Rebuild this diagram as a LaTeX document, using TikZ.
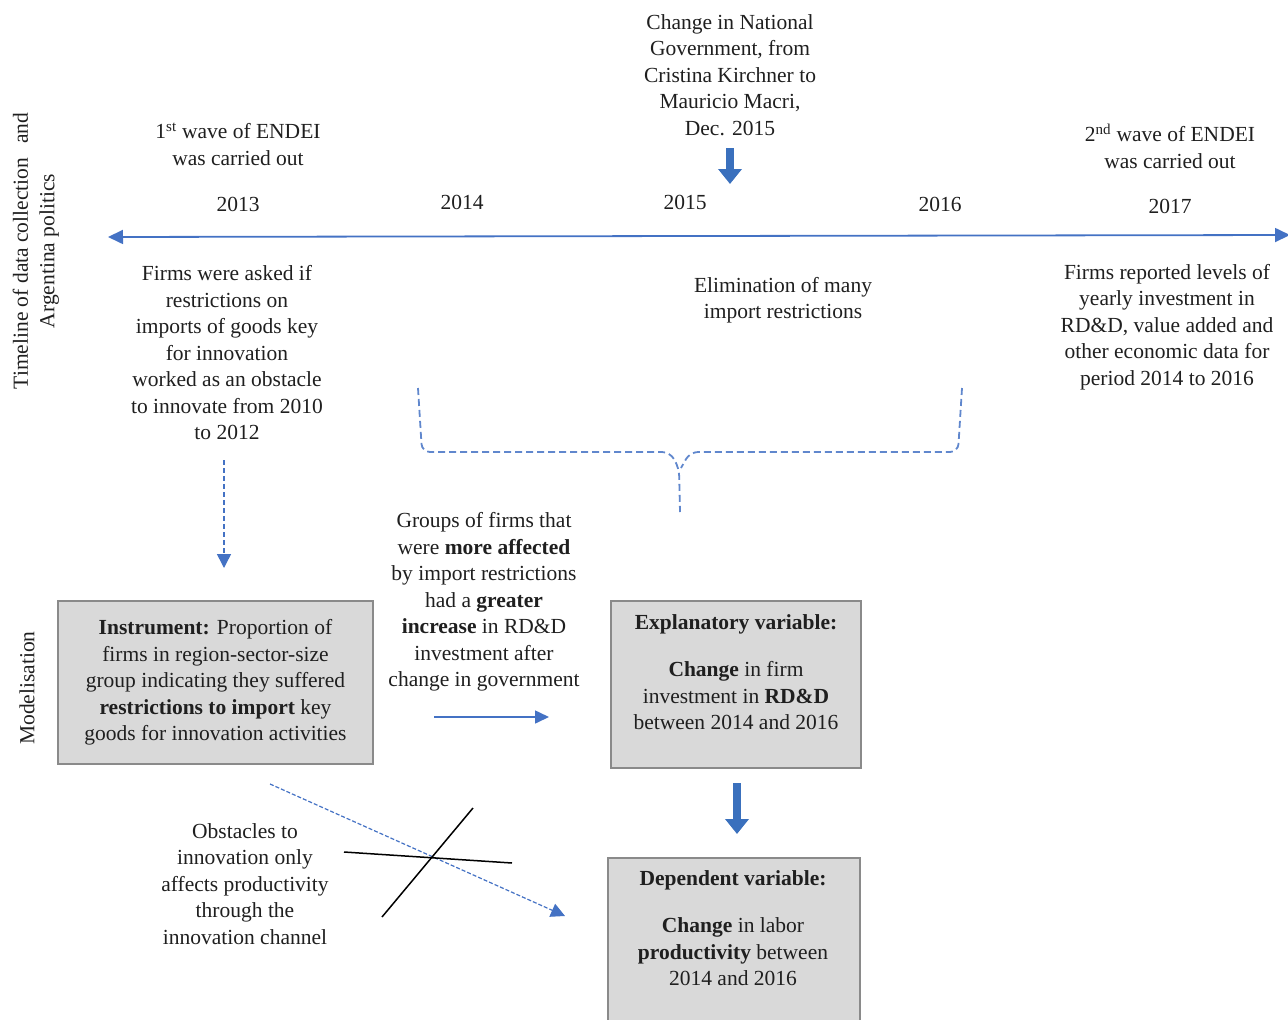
\documentclass[tikz,border=0pt]{standalone}
\usepackage{fontspec}
\setmainfont{Liberation Serif}
\usetikzlibrary{arrows.meta}
\definecolor{lineblue}{HTML}{4472C4}
\definecolor{arrblue}{HTML}{3A70BD}
\definecolor{boxfill}{HTML}{D9D9D9}
\definecolor{boxline}{HTML}{8A8A8A}
\begin{document}
\begin{tikzpicture}[x=1pt,y=-1pt,
  txt/.style={align=center, inner sep=0pt, font=\fontsize{21.5}{26.5}\selectfont, text=black!88},
  box/.style={draw=boxline, fill=boxfill, line width=1.5pt, inner sep=0pt},
  bluearr/.style={lineblue, line width=1.6pt, -{Triangle[length=14pt,width=13pt]}},
  dasharr/.style={lineblue, line width=1.5pt, dash pattern=on 5pt off 3pt, -{Triangle[length=14pt,width=14pt]}},
  dashline/.style={lineblue!85, line width=1.8pt, dash pattern=on 7pt off 4pt, rounded corners=8pt},
  thickarr/.style={arrblue, line width=8pt, -{Triangle[length=15pt,width=23pt]}},
  crossline/.style={black, line width=1.5pt}
]
\useasboundingbox (0,0) rectangle (1288,1020);

% side labels
\node[txt, rotate=90] (tlab) at (36,251) {Timeline of data collection\hspace{14pt}and\\Argentina politics};
\node[txt, rotate=90] (mlab) at (27,688) {Modelisation};

% timeline
\coordinate (tl) at (108,237);
\coordinate (tr) at (1290,235);
\draw[lineblue, line width=1.8pt, {Triangle[length=15pt,width=14pt]}-{Triangle[length=15pt,width=14pt]}] (tl) -- (tr);

% years
\node[txt] (y13) at (238,204) {2013};
\node[txt] (y14) at (462,202) {2014};
\node[txt] (y15) at (685,202) {2015};
\node[txt] (y16) at (940,204) {2016};
\node[txt] (y17) at (1170,206) {2017};

% above timeline
\node[txt] (w1) at (238,144) {1\textsuperscript{st} wave of ENDEI\\was carried out};
\node[txt] (w2) at (1170,146) {2\textsuperscript{nd} wave of ENDEI\\was carried out};
\node[txt] (gov) at (730,75) {Change in National\\Government, from\\Cristina Kirchner to\\Mauricio Macri,\\Dec. 2015};
\coordinate (ga1) at (730,148);
\coordinate (ga2) at (730,184);
\draw[thickarr] (ga1) -- (ga2);

% below timeline
\node[txt] (asked) at (227,353) {Firms were asked if\\restrictions on\\imports of goods key\\for innovation\\worked as an obstacle\\to innovate from 2010\\to 2012};
\node[txt] (elim) at (783,300) {Elimination of many\\import restrictions};
\node[txt] (rep) at (1167,327) {Firms reported levels of\\yearly investment in\\RD\&D, value added and\\other economic data for\\period 2014 to 2016};

% dashed brace
\draw[dashline] (418,388) -- (422,452) -- (670,452) -- (679,468) -- (680,512);
\draw[dashline] (962,388) -- (958,452) -- (690,452) -- (681,468);

% modelisation boxes
\node[box, minimum width=315pt, minimum height=163pt, txt] (inst) at (215.5,682.5)
  {\textbf{Instrument:} Proportion of\\firms in region-sector-size\\group indicating they suffered\\\textbf{restrictions to import} key\\goods for innovation activities};
\node[box, minimum width=250pt, minimum height=167pt] (expl) at (736,684.5) {};
\node[txt] (explt) at (736,672) {\textbf{Explanatory variable:}\\[21pt]\textbf{Change} in firm\\investment in \textbf{RD\&D}\\between 2014 and 2016};
\node[box, minimum width=252pt, minimum height=180pt, anchor=north west] (dep) at (607,857) {};
\node[txt] (dept) at (733,928) {\textbf{Dependent variable:}\\[21pt]\textbf{Change} in labor\\\textbf{productivity} between\\2014 and 2016};

\node[txt] (grp) at (484,602) {Groups of firms that\\were \textbf{more affected}\\by import restrictions\\had a \textbf{greater}\\\textbf{increase} in RD\&D\\investment after\\change in government};
\coordinate (g1) at (434,717);
\coordinate (g2) at (549,717);
\draw[bluearr] (g1) -- (g2);

\coordinate (a1) at (224,460);
\coordinate (a2) at (224,568);
\draw[dasharr] (a1) -- (a2);

\coordinate (e1) at (737,783);
\coordinate (e2) at (737,834);
\draw[thickarr] (e1) -- (e2);

\node[txt] (obs) at (245,884) {Obstacles to\\innovation only\\affects productivity\\through the\\innovation channel};
\coordinate (d1) at (270,784);
\coordinate (d2) at (565,916);
\draw[dasharr, line width=1.2pt, dash pattern=on 4pt off 2pt] (d1) -- (d2);

\coordinate (c1) at (344,852);
\coordinate (c2) at (512,863);
\coordinate (c3) at (382,917);
\coordinate (c4) at (473,808);
\draw[crossline] (c1) -- (c2);
\draw[crossline] (c3) -- (c4);
\end{tikzpicture}
\end{document}
